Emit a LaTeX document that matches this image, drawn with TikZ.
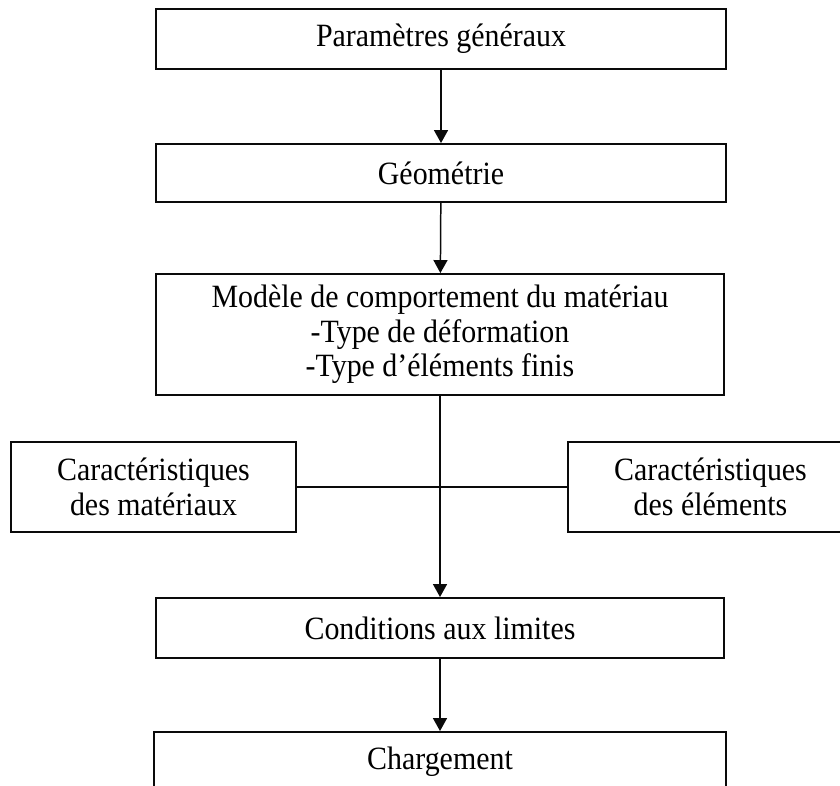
\documentclass[tikz,border=0pt]{standalone}
\usepackage{fontspec}
\setmainfont[FakeStretch=0.92]{Liberation Serif}
\usepackage{tikz}
\usetikzlibrary{arrows.meta,positioning}
\definecolor{boxBlack}{RGB}{10,10,10}

\begin{document}
\begin{tikzpicture}[x=1cm,y=1cm,
  box/.style={draw=boxBlack, line width=1.1pt, align=center, inner sep=2pt,
    font=\fontsize{18.5pt}{19.6pt}\selectfont},
  flow/.style={boxBlack, line width=0.85pt, -{Triangle[length=2.6mm,width=2.8mm]}}]
\useasboundingbox (0,0) rectangle (16.8,-15.7);
\clip (0,0) rectangle (16.8,-15.7);
\node[box, minimum width=11.4cm, minimum height=1.2cm] (params) at (8.82,-0.78) {Paramètres généraux};
\node[box, minimum width=11.4cm, minimum height=1.16cm] (geom) at (8.82,-3.46) {Géométrie};
\node[box, minimum width=11.36cm, minimum height=2.42cm] (modele) at (8.80,-6.69)
  {Modèle de comportement du matériau\\-Type de déformation\\-Type d’éléments finis};
\node[box, minimum width=5.7cm, minimum height=1.8cm] (carMat) at (3.07,-9.74) {Caractéristiques\\des matériaux};
\node[box, minimum width=5.7cm, minimum height=1.8cm] (carElem) at (14.21,-9.74) {Caractéristiques\\des éléments};
\node[box, minimum width=11.36cm, minimum height=1.2cm] (cond) at (8.80,-12.56) {Conditions aux limites};
\node[box, minimum width=11.44cm, minimum height=1.2cm] (charg) at (8.80,-15.24) {Chargement};
% links
\draw[flow] (params) -- (geom);
\draw[flow] (geom) -- (modele);
\draw[flow] (modele) -- (cond);
\draw[boxBlack, line width=0.85pt] (carMat) -- (carElem);
\draw[flow] (cond) -- (charg);
\end{tikzpicture}
\end{document}
